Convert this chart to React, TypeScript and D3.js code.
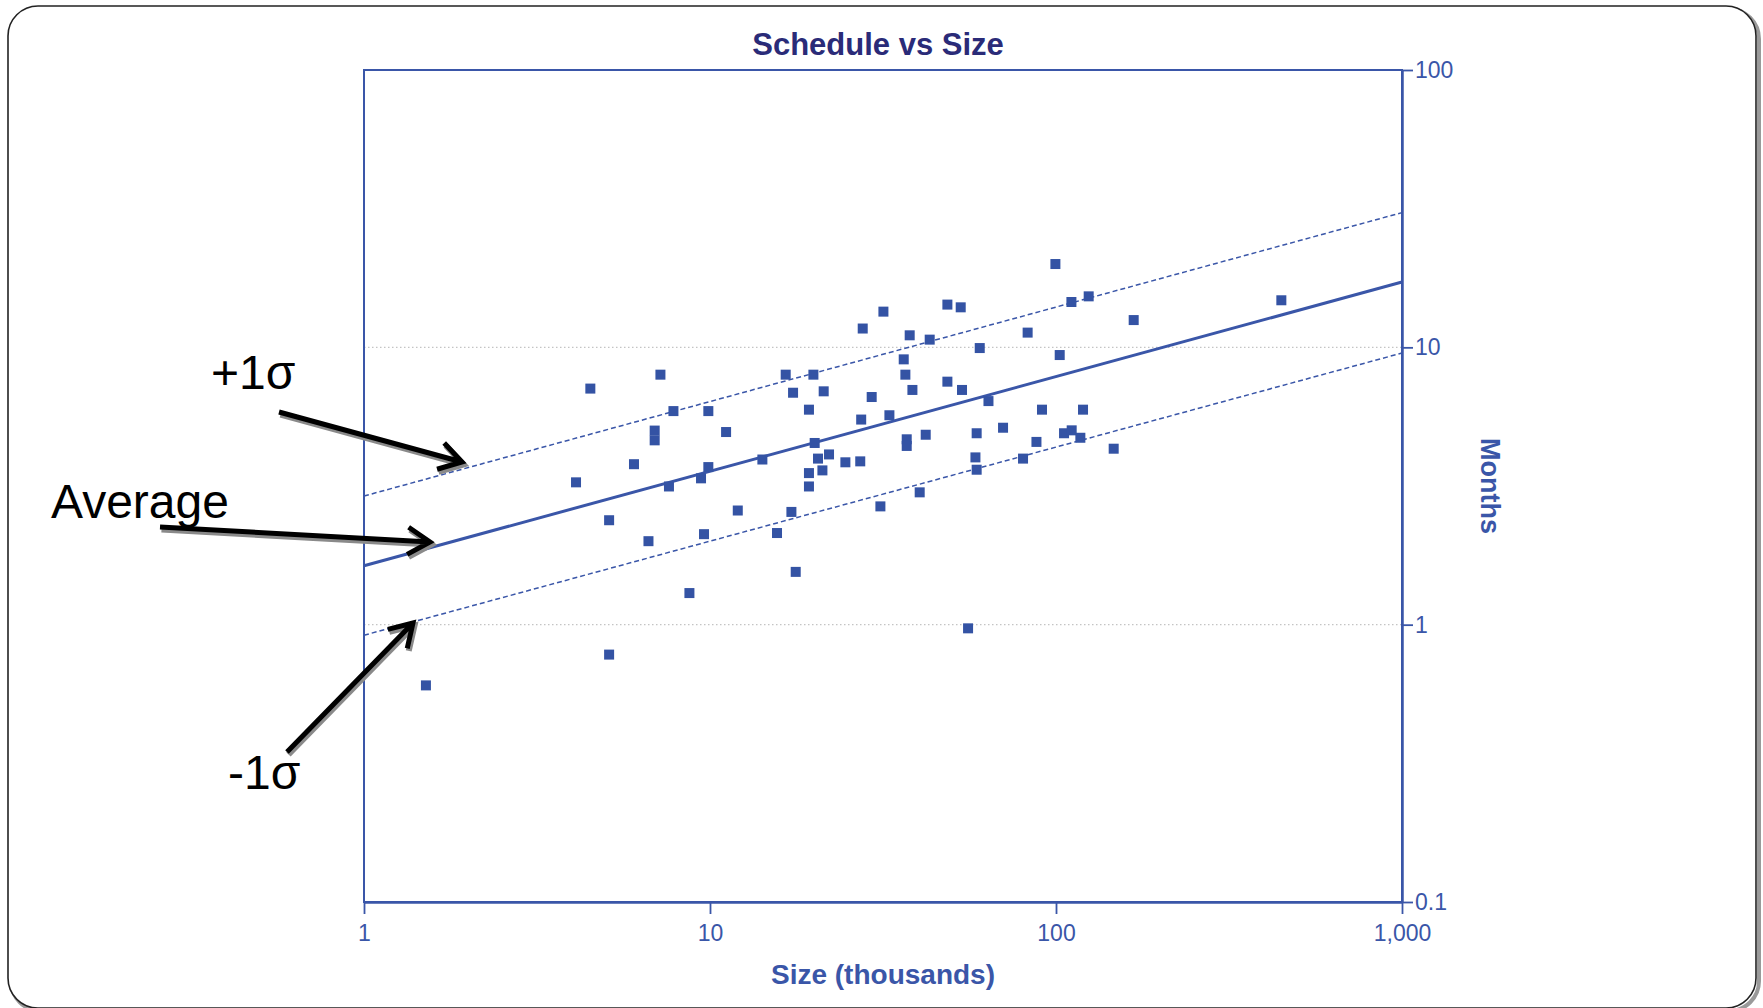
import React, { useEffect, useRef } from 'react';
import * as d3 from 'd3';

// size in thousands (x) and schedule in months (y)
const sizeK = [
  4.51, 7.19, 7.84, 9.89, 6.92, 6.92, 11.13, 6.03, 9.89, 16.55, 19.9, 17.38,
  21.31, 19.32, 20.07, 14.17, 20.52, 22.08, 21.13, 19.32, 24.62, 27.18, 27.35, 27.63,
  31.71, 48.54, 53.04, 99.6, 110.8, 124.3, 448, 167.7, 37.77, 43.15, 82.8, 60.2,
  102.5, 36.3, 36.7, 38.46, 48.54, 53.5, 29.33, 63.8, 33.0, 91.1, 119.7, 37.03,
  37.03, 42.02, 58.98, 70.3, 87.8, 105.5, 111.0, 117.6, 146.8, 58.5, 80.3, 58.98,
  4.1, 7.61, 9.42, 19.32, 5.11, 6.64, 9.61, 12.03, 17.19, 15.62, 17.69, 8.72,
  5.11, 1.51, 31.08, 40.37, 55.7,
];
const months = [
  7.1, 7.97, 5.89, 5.89, 5.01, 4.62, 4.95, 3.79, 3.7, 7.97, 7.97, 6.86,
  6.94, 5.96, 4.52, 3.94, 3.97, 4.11, 3.6, 3.52, 3.85, 3.88, 5.49, 11.69,
  13.45, 14.26, 13.94, 19.97, 14.57, 15.27, 14.78, 12.54, 11.05, 10.66, 11.3, 9.94,
  9.38, 9.05, 7.97, 7.02, 7.52, 7.02, 6.62, 6.4, 5.69, 5.96, 5.96, 4.66,
  4.41, 4.84, 4.9, 5.13, 4.56, 4.9, 5.02, 4.72, 4.31, 4.01, 3.97, 3.62,
  3.26, 3.15, 3.37, 3.15, 2.38, 2.0, 2.12, 2.58, 2.55, 2.14, 1.55, 1.3,
  0.78, 0.604, 2.67, 3.0, 0.97,
];

// trend lines (value at size 1 and at size 1000)
const fitSizes = [1, 1000];
const avgMonths = [1.63, 17.2];
const plusMonths = [2.91, 30.6];
const minusMonths = [0.916, 9.54];

const xMajor = [1, 10, 100, 1000];
const yMajor = [0.1, 1, 10, 100];
const yGrid = [1, 10];

const title = 'Schedule vs Size';
const xTitle = 'Size (thousands)';
const yTitle = 'Months';
const notes = ['+1σ', 'Average', '-1σ'];

const W = 1763;
const H = 1008;
const left = 364, right = 1402, top = 70, bottom = 902;
const blue = '#3a56a8';
const dotBlue = '#3453a4';
const navy = '#2a2b78';

const minorOf = (majors: number[]) => {
  const out: number[] = [];
  majors.slice(0, -1).forEach(d => {
    for (let k = 2; k <= 9; k++) out.push(d * k);
  });
  return out;
};

const App = () => {
  const svgRef = useRef<SVGSVGElement>(null);

  useEffect(() => {
    const svg = d3.select(svgRef.current);
    svg.selectAll('*').remove();

    const x = d3.scaleLog().domain([1, 1000]).range([left, right]);
    const y = d3.scaleLog().domain([0.1, 100]).range([bottom, top]);

    // outer rounded frame
    svg.append('rect')
      .attr('x', 11).attr('y', 9).attr('width', 1748).attr('height', 1002)
      .attr('rx', 30).attr('fill', 'none').attr('stroke', '#9a9a9a').attr('stroke-width', 4);
    svg.append('rect')
      .attr('x', 8).attr('y', 6).attr('width', 1748).attr('height', 1002)
      .attr('rx', 30).attr('fill', '#fff').attr('stroke', '#222').attr('stroke-width', 1.6);

    // grid
    svg.append('g').selectAll('line').data(yGrid).join('line')
      .attr('x1', left).attr('x2', right)
      .attr('y1', d => y(d)).attr('y2', d => y(d))
      .attr('stroke', '#c4c4c4').attr('stroke-width', 1.2).attr('stroke-dasharray', '1.5,2.5');

    // plot frame (left / top)
    svg.append('rect')
      .attr('x', left).attr('y', top).attr('width', right - left).attr('height', bottom - top)
      .attr('fill', 'none').attr('stroke', blue).attr('stroke-width', 2);

    // trend lines
    const line = d3.line<number>().x((d, i) => x(fitSizes[i])).y(d => y(d));
    svg.append('path').datum(avgMonths).attr('d', line)
      .attr('fill', 'none').attr('stroke', blue).attr('stroke-width', 3);
    [plusMonths, minusMonths].forEach(s => {
      svg.append('path').datum(s).attr('d', line)
        .attr('fill', 'none').attr('stroke', blue).attr('stroke-width', 1.5)
        .attr('stroke-dasharray', '5,3');
    });

    // points
    svg.append('g').selectAll('rect').data(sizeK).join('rect')
      .attr('x', d => x(d) - 5)
      .attr('y', (d, i) => y(months[i]) - 5)
      .attr('width', 10).attr('height', 10)
      .attr('fill', dotBlue);

    // bottom axis
    const fmtX = d3.format(',');
    const xg = svg.append('g').attr('transform', `translate(0,${bottom})`);
    xg.call(d3.axisBottom(x).tickValues(minorOf(xMajor)).tickSize(8).tickSizeOuter(0).tickFormat(() => ''));
    xg.call(d3.axisBottom(x).tickValues(xMajor).tickSize(12).tickSizeOuter(0).tickPadding(11)
      .tickFormat(d => fmtX(d as number)));
    xg.selectAll('path.domain').attr('stroke', blue).attr('stroke-width', 2.5);
    xg.selectAll('line').attr('stroke', blue).attr('stroke-width', 1.8);
    xg.selectAll('text').attr('fill', blue).attr('font-size', 23)
      .attr('font-family', 'Liberation Sans, Arial, sans-serif');

    // right axis
    const yg = svg.append('g').attr('transform', `translate(${right},0)`);
    yg.call(d3.axisRight(y).tickValues(minorOf(yMajor)).tickSize(10).tickSizeOuter(0).tickFormat(() => ''));
    yg.call(d3.axisRight(y).tickValues(yMajor).tickSize(11).tickSizeOuter(0).tickPadding(2)
      .tickFormat(d => String(d)));
    yg.selectAll('path.domain').attr('stroke', blue).attr('stroke-width', 2.5);
    yg.selectAll('line').attr('stroke', blue).attr('stroke-width', 1.8);
    yg.selectAll('text').attr('fill', blue).attr('font-size', 23)
      .attr('font-family', 'Liberation Sans, Arial, sans-serif');

    // titles
    svg.append('text').text(title)
      .attr('x', 878).attr('y', 55).attr('text-anchor', 'middle')
      .attr('font-family', 'Liberation Sans, Arial, sans-serif').attr('font-weight', 'bold')
      .attr('font-size', 31).attr('fill', navy);
    svg.append('text').text(xTitle)
      .attr('x', 883).attr('y', 984).attr('text-anchor', 'middle')
      .attr('font-family', 'Liberation Sans, Arial, sans-serif').attr('font-weight', 'bold')
      .attr('font-size', 28).attr('fill', blue);
    svg.append('text').text(yTitle)
      .attr('transform', 'translate(1481,486) rotate(90)').attr('text-anchor', 'middle')
      .attr('font-family', 'Liberation Sans, Arial, sans-serif').attr('font-weight', 'bold')
      .attr('font-size', 27).attr('fill', blue);

    // annotations with arrows
    const arrows = [
      { tx: 211, ty: 389, x1: 279, y1: 412, x2: 462, y2: 462 },
      { tx: 51, ty: 518, x1: 160, y1: 527, x2: 430, y2: 542 },
      { tx: 228, ty: 789, x1: 287, y1: 752, x2: 413, y2: 623 },
    ];
    const ann = svg.append('g');
    arrows.forEach((a, i) => {
      const ang = Math.atan2(a.y2 - a.y1, a.x2 - a.x1);
      const len = 26;
      const spread = 0.55;
      const arm = (s: number) => [a.x2 - len * Math.cos(ang + s), a.y2 - len * Math.sin(ang + s)];
      const p1 = arm(spread);
      const p2 = arm(-spread);
      const d = `M${a.x1},${a.y1}L${a.x2},${a.y2}M${p1[0]},${p1[1]}L${a.x2},${a.y2}L${p2[0]},${p2[1]}`;
      ann.append('path').attr('d', d).attr('transform', 'translate(1.5,2.5)')
        .attr('fill', 'none').attr('stroke', '#8a8a8a').attr('stroke-width', 6)
        .attr('stroke-linejoin', 'miter');
      ann.append('path').attr('d', d)
        .attr('fill', 'none').attr('stroke', '#000').attr('stroke-width', 5)
        .attr('stroke-linejoin', 'miter');
      ann.append('text').text(notes[i])
        .attr('x', a.tx).attr('y', a.ty)
        .attr('font-family', 'Liberation Sans, Arial, sans-serif')
        .attr('font-size', 48).attr('fill', '#000');
    });
  }, []);

  return (
    <svg
      ref={svgRef}
      width={W}
      height={H}
      style={{ position: 'absolute', left: 0, top: 0, background: '#fff' }}
    />
  );
};

export default App;
